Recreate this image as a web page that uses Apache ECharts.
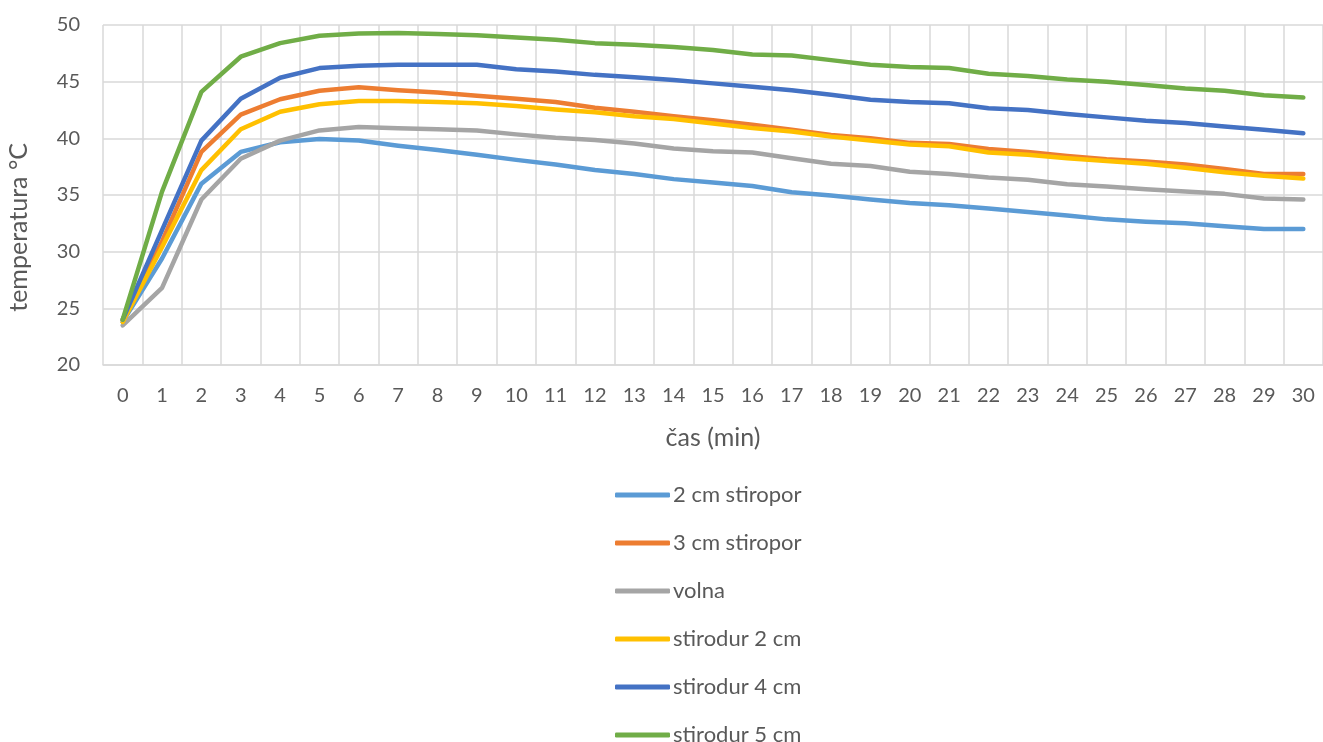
<!DOCTYPE html>
<html>
<head>
<meta charset="utf-8">
<script src="https://cdn.jsdelivr.net/npm/echarts@6/dist/echarts.min.js"></script>
<style>html,body{margin:0;padding:0;background:#fff}#c{width:1323px;height:742px}</style>
</head>
<body>
<div id="c"></div>
<script>
const categories = ['0','1','2','3','4','5','6','7','8','9','10','11','12','13','14','15','16','17','18','19','20','21','22','23','24','25','26','27','28','29','30'];
const seriesNames = ['2 cm stiropor','3 cm stiropor','volna','stirodur 2 cm','stirodur 4 cm','stirodur 5 cm'];
const stiropor2 = [23.8,29.4,36.0,38.8,39.65,39.95,39.8,39.35,38.97,38.55,38.1,37.7,37.2,36.85,36.4,36.1,35.8,35.25,34.95,34.6,34.3,34.1,33.8,33.5,33.2,32.85,32.65,32.5,32.25,32.0,32.0];
const stiropor3 = [24.0,30.9,38.8,42.1,43.45,44.2,44.5,44.25,44.05,43.75,43.5,43.2,42.7,42.35,41.95,41.6,41.2,40.75,40.3,40.0,39.6,39.5,39.05,38.8,38.45,38.15,37.95,37.7,37.3,36.85,36.85];
const volna = [23.5,26.8,34.6,38.2,39.8,40.7,41.0,40.9,40.8,40.7,40.35,40.05,39.85,39.55,39.1,38.85,38.75,38.25,37.75,37.55,37.05,36.85,36.55,36.35,35.95,35.75,35.5,35.3,35.1,34.7,34.6];
const stirodur2 = [23.8,30.4,37.2,40.8,42.35,43.0,43.3,43.3,43.2,43.1,42.85,42.55,42.3,41.95,41.7,41.3,40.9,40.6,40.15,39.8,39.45,39.3,38.75,38.55,38.25,38.0,37.75,37.4,37.0,36.7,36.45];
const stirodur4 = [24.0,31.9,39.8,43.5,45.35,46.2,46.4,46.5,46.5,46.5,46.1,45.9,45.6,45.4,45.15,44.85,44.55,44.25,43.85,43.4,43.2,43.1,42.65,42.5,42.15,41.85,41.55,41.35,41.05,40.75,40.45];
const stirodur5 = [24.0,35.3,44.1,47.2,48.4,49.05,49.25,49.3,49.2,49.1,48.9,48.7,48.4,48.25,48.05,47.8,47.4,47.3,46.9,46.5,46.3,46.2,45.7,45.5,45.2,45.0,44.7,44.4,44.2,43.8,43.6];
const yTicks = {min: 20, max: 50, interval: 5};

const colors = ['#5B9BD5','#ED7D31','#A5A5A5','#FFC000','#4472C4','#70AD47'];
const dataSets = [stiropor2, stiropor3, volna, stirodur2, stirodur4, stirodur5];
const font = 'Lato, "Open Sans", sans-serif';
const chart = echarts.init(document.getElementById('c'));
chart.setOption({
  animation: false,
  color: colors,
  textStyle: {fontFamily: font},
  grid: {left: 103, right: 0, top: 25, height: 340, containLabel: false},
  xAxis: {
    type: 'category',
    data: categories,
    boundaryGap: true,
    name: 'čas (min)',
    nameLocation: 'middle',
    nameGap: 60,
    nameTextStyle: {color: '#595959', fontSize: 25, fontFamily: font},
    axisLine: {show: true, lineStyle: {color: '#D9D9D9', width: 1.5}},
    axisTick: {show: false},
    axisLabel: {color: '#595959', fontSize: 20, margin: 21, interval: 0, fontFamily: font},
    splitLine: {show: true, interval: 0, lineStyle: {color: '#D9D9D9', width: 1.5}}
  },
  yAxis: {
    type: 'value',
    min: yTicks.min, max: yTicks.max, interval: yTicks.interval,
    axisLine: {show: false},
    axisTick: {show: false},
    axisLabel: {color: '#595959', fontSize: 20, margin: 23, fontFamily: font},
    splitLine: {show: true, lineStyle: {color: '#D9D9D9', width: 1.5}}
  },
  legend: {
    orient: 'vertical',
    left: 610,
    top: 478,
    height: 320,
    icon: 'roundRect',
    itemWidth: 55,
    itemHeight: 5,
    itemGap: 24,
    textStyle: {color: '#595959', fontSize: 22, lineHeight: 24, fontFamily: font, padding: [0,0,0,-2]},
    data: seriesNames
  },
  graphic: [{
    type: 'text',
    left: 6,
    top: 143,
    rotation: Math.PI / 2,
    style: {text: 'temperatura °C', fill: '#595959', fontSize: 25, fontFamily: font}
  }],
  series: seriesNames.map((n, i) => ({
    name: n,
    type: 'line',
    data: dataSets[i],
    symbol: 'none',
    showSymbol: false,
    lineStyle: {width: 4.5, cap: 'round', join: 'round'},
    emphasis: {disabled: true}
  }))
});
</script>
</body>
</html>
